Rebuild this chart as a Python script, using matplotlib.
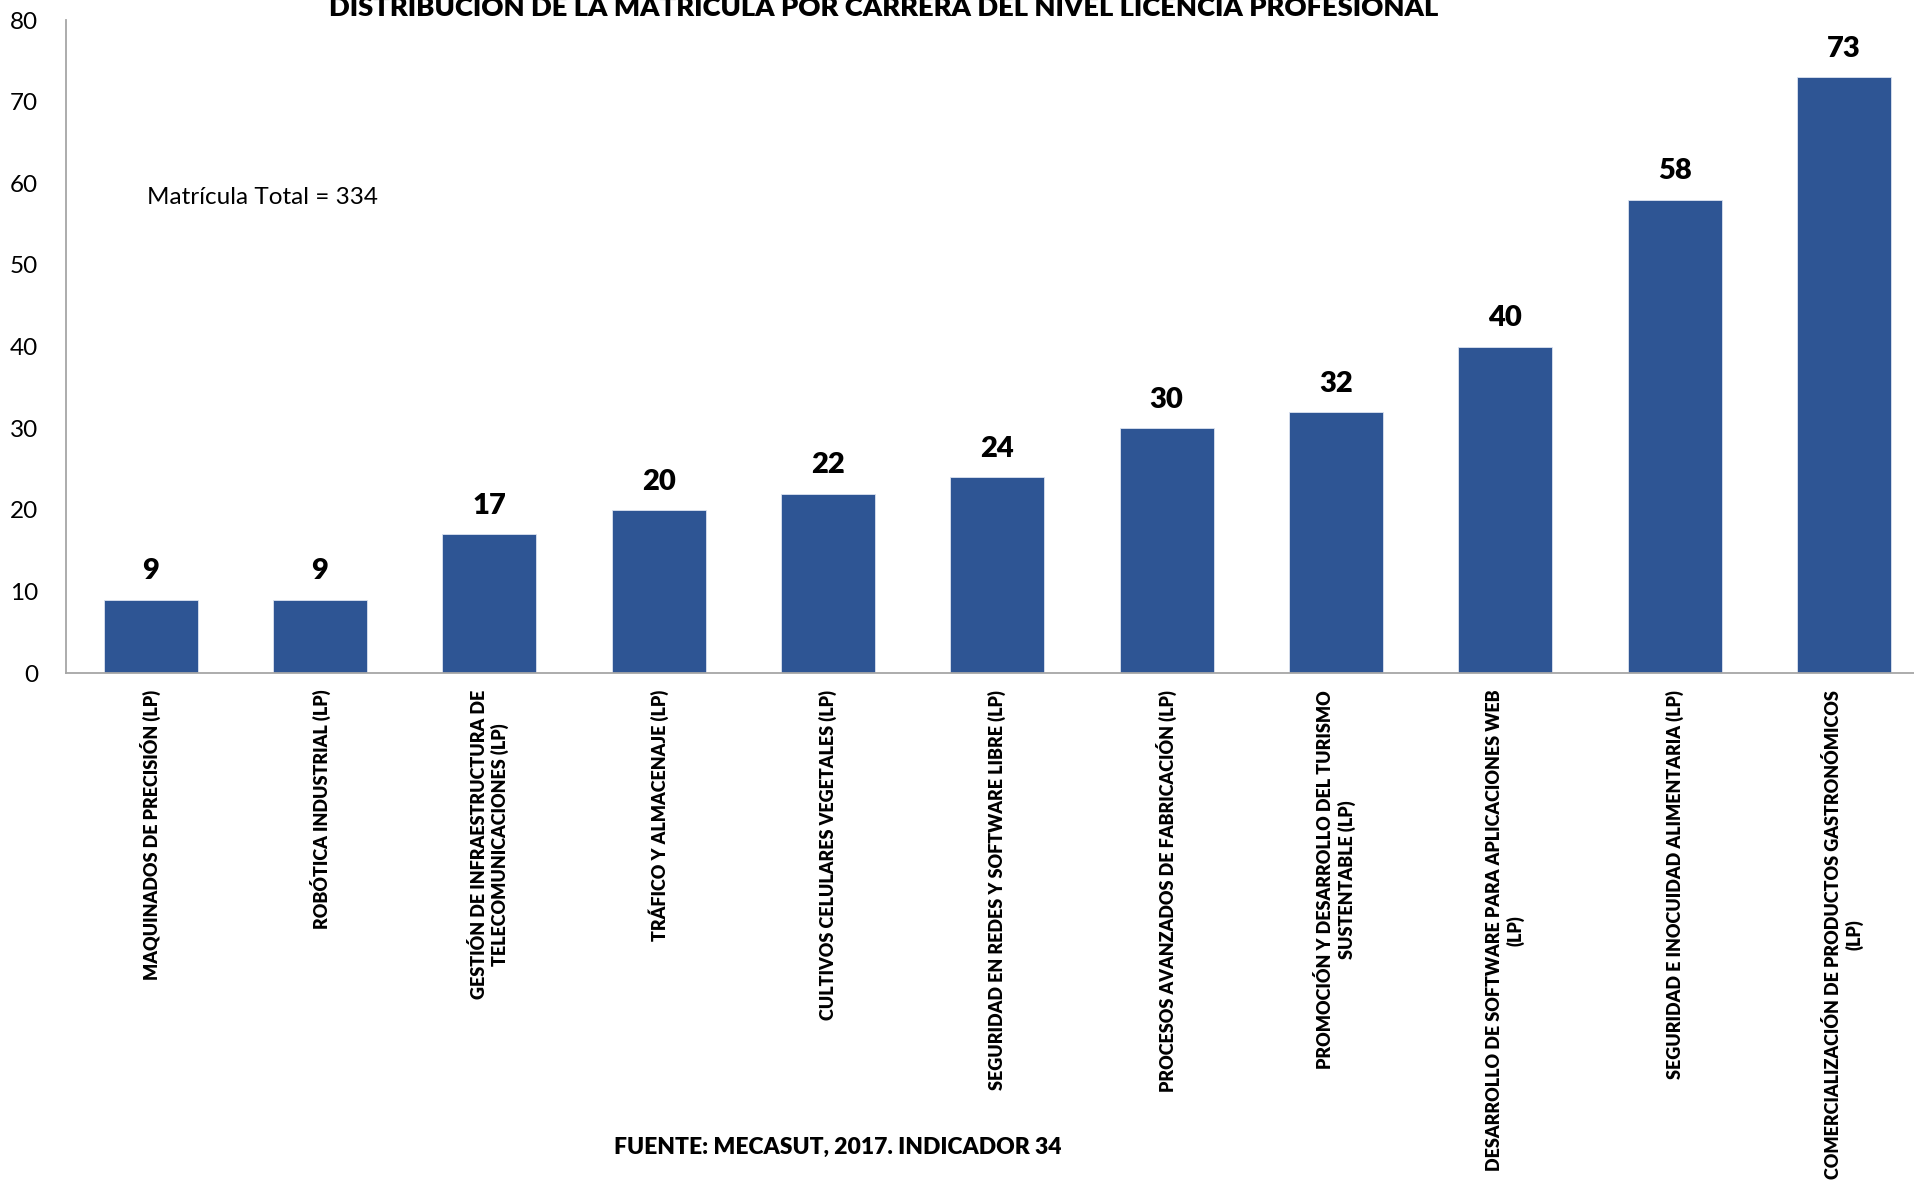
import numpy as np
from matplotlib import pyplot as plt

# datos de la matrícula por carrera (nivel licencia profesional)
carreras = [
    "MAQUINADOS DE PRECISIÓN (LP)",
    "ROBÓTICA INDUSTRIAL (LP)",
    "GESTIÓN DE INFRAESTRUCTURA DE\nTELECOMUNICACIONES (LP)",
    "TRÁFICO Y ALMACENAJE (LP)",
    "CULTIVOS CELULARES VEGETALES (LP)",
    "SEGURIDAD EN REDES Y SOFTWARE LIBRE (LP)",
    "PROCESOS AVANZADOS DE FABRICACIÓN (LP)",
    "PROMOCIÓN Y DESARROLLO DEL TURISMO\nSUSTENTABLE (LP)",
    "DESARROLLO DE SOFTWARE PARA APLICACIONES WEB\n(LP)",
    "SEGURIDAD E INOCUIDAD ALIMENTARIA (LP)",
    "COMERCIALIZACIÓN DE PRODUCTOS GASTRONÓMICOS\n(LP)",
]
matricula = [9, 9, 17, 20, 22, 24, 30, 32, 40, 58, 73]
y_ticks = [0, 10, 20, 30, 40, 50, 60, 70, 80]

titulo = "DISTRIBUCIÓN DE LA MATRÍCULA POR CARRERA DEL NIVEL LICENCIA PROFESIONAL"
fuente = "FUENTE: MECASUT, 2017. INDICADOR 34"
nota = "Matrícula Total = 334"

plt.rcParams['font.family'] = ['Lato', 'DejaVu Sans']

fig = plt.figure(figsize=(19.15, 11.81), dpi=100)
ax = fig.add_axes([0.0345, 0.430, 0.9655, 0.553])

x = np.arange(len(carreras))
ax.bar(x, matricula, width=0.555, color='#2E5594', edgecolor='#DCE3F0', linewidth=0.6)

for xi, v in zip(x, matricula):
    ax.annotate(str(v), (xi, v), xytext=(0, 11), textcoords='offset points',
                ha='center', va='bottom', fontsize=21, fontweight='heavy')

ax.set_xlim(-0.5, 10.42)
ax.set_ylim(0, 80)
ax.set_yticks(y_ticks)
ax.tick_params(axis='y', length=0, pad=20, labelsize=17.5)
ax.set_xticks(x)
ax.set_xticklabels(carreras, rotation=90, ha='center', va='top',
                   multialignment='center', fontsize=13, fontweight='heavy')
ax.tick_params(axis='x', length=0, pad=12)

for s in ['top', 'right']:
    ax.spines[s].set_visible(False)
ax.spines['left'].set_color('#A6A6A6')
ax.spines['bottom'].set_color('#A6A6A6')
ax.spines['left'].set_linewidth(1.3)
ax.spines['bottom'].set_linewidth(1.3)

ax.text(-0.02, 58.3, nota, ha='left', va='center', fontsize=17.5)

fig.text(0.4615, 1.0 + 0.004, titulo, ha='center', va='top', fontsize=19.7, fontweight='heavy')
fig.text(0.4375, 1 - 1147 / 1181, fuente, ha='center', va='center', fontsize=16.5, fontweight='heavy')

fig.savefig("out.png", dpi=100)
